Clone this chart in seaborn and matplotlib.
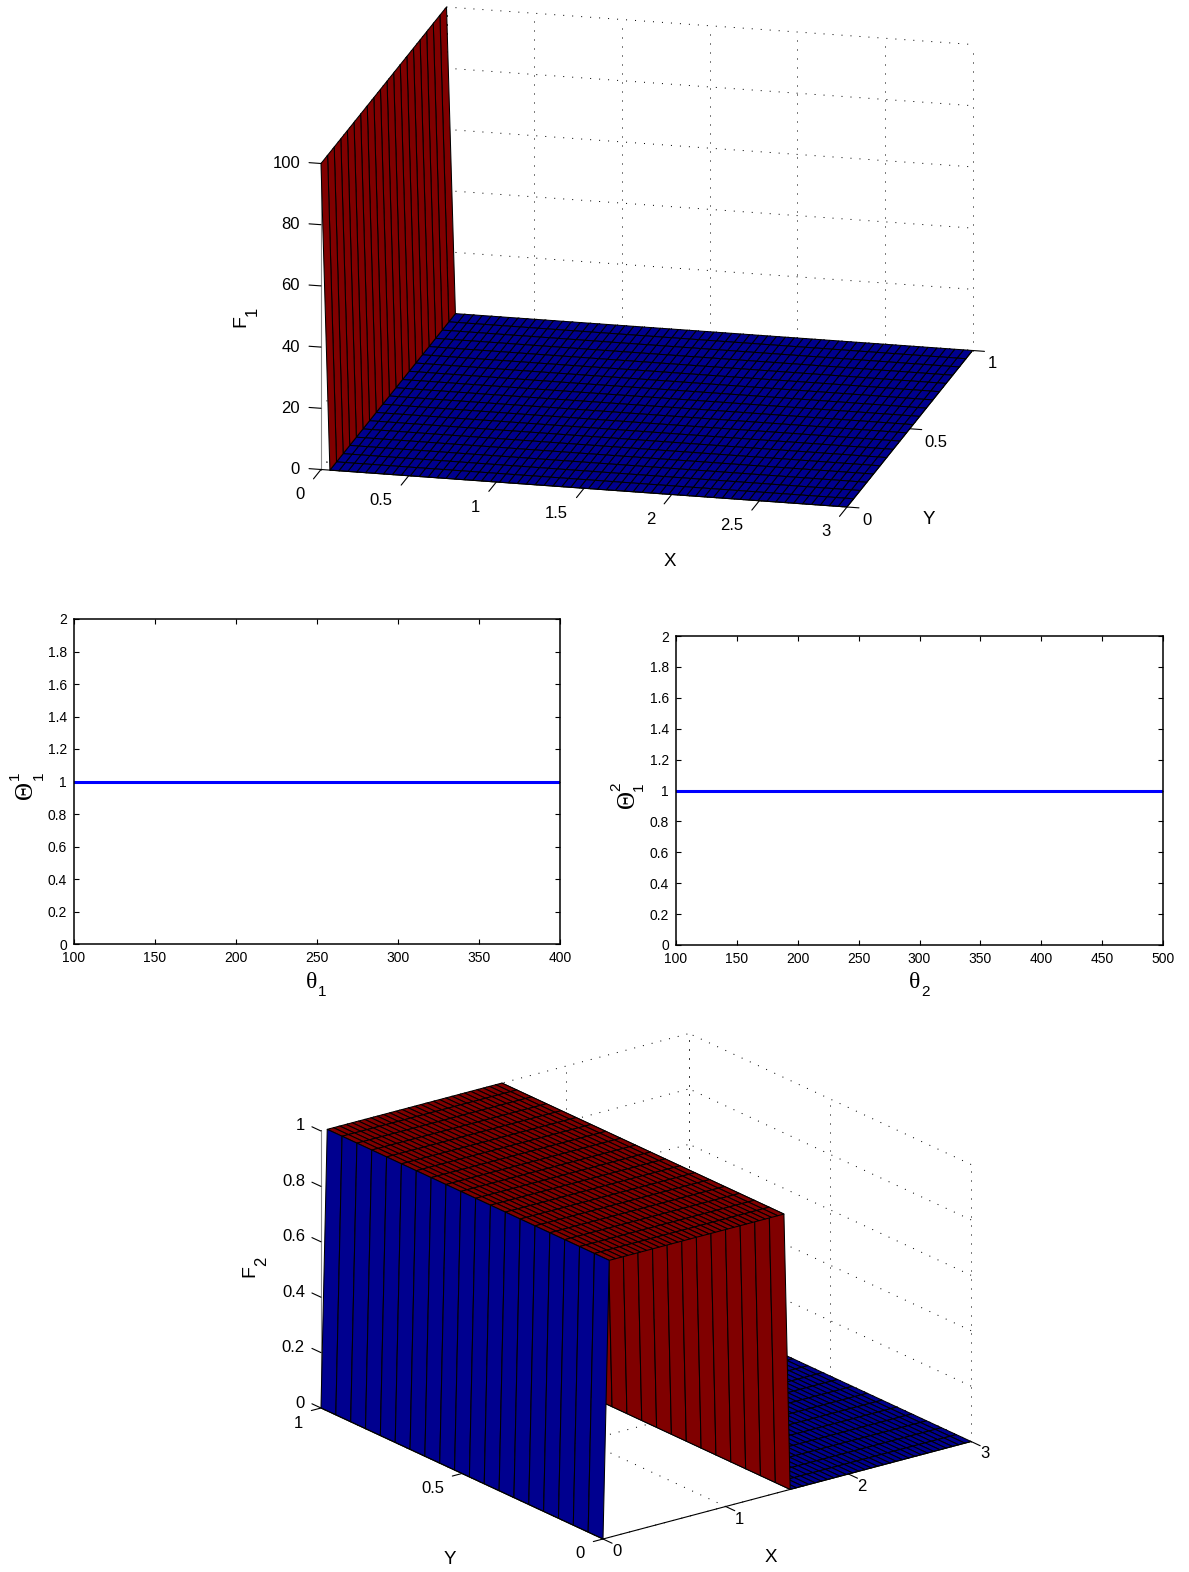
import numpy as np
import matplotlib
matplotlib.use('Agg')
import matplotlib.pyplot as plt
from matplotlib.collections import PolyCollection
import seaborn as sns

# Surface samples
grid_x = [0.0, 0.0508, 0.1017, 0.1525, 0.2034, 0.2542, 0.3051, 0.3559, 0.4068, 0.4576,
          0.5085, 0.5593, 0.6102, 0.6610, 0.7119, 0.7627, 0.8136, 0.8644, 0.9153, 0.9661,
          1.0169, 1.0678, 1.1186, 1.1695, 1.2203, 1.2712, 1.3220, 1.3729, 1.4237, 1.4746,
          1.5254, 1.5763, 1.6271, 1.6780, 1.7288, 1.7797, 1.8305, 1.8814, 1.9322, 1.9831,
          2.0339, 2.0847, 2.1356, 2.1864, 2.2373, 2.2881, 2.3390, 2.3898, 2.4407, 2.4915,
          2.5424, 2.5932, 2.6441, 2.6949, 2.7458, 2.7966, 2.8475, 2.8983, 2.9492, 3.0]
grid_y = [0.0, 0.0526, 0.1053, 0.1579, 0.2105, 0.2632, 0.3158, 0.3684, 0.4211, 0.4737,
          0.5263, 0.5789, 0.6316, 0.6842, 0.7368, 0.7895, 0.8421, 0.8947, 0.9474, 1.0]
f1_profile = [100] + [0] * 59
f2_profile = [0] + [1] * 29 + [0] * 30

# Tick values
surface_x_ticks = [0, 0.5, 1, 1.5, 2, 2.5, 3]
f2_x_ticks = [0, 1, 2, 3]
surface_y_ticks = [0, 0.5, 1]
f1_z_ticks = [0, 20, 40, 60, 80, 100]
f2_z_ticks = [0, 0.2, 0.4, 0.6, 0.8, 1]

# Line panels
theta1 = [100, 400]
big_theta1 = [1, 1]
theta2 = [100, 500]
big_theta2 = [1, 1]
theta1_ticks = [100, 150, 200, 250, 300, 350, 400]
theta2_ticks = [100, 150, 200, 250, 300, 350, 400, 450, 500]
big_theta_ticks = [0, 0.2, 0.4, 0.6, 0.8, 1, 1.2, 1.4, 1.6, 1.8, 2]

WIDTH, HEIGHT = 1189, 1572
LOW_COLOR = '#00008f'
HIGH_COLOR = '#800000'
DOTS = (0, (1, 8))
SANS = 'Liberation Sans'
SERIF = 'Liberation Serif'

sns.set_style('white')
plt.rcParams['font.family'] = [SANS, 'DejaVu Sans']
plt.rcParams['text.color'] = 'black'

# Pixel geometry of the two MATLAB style boxes (orthographic, so a plain affine map)
f1_box = {
    'origin': (321, 469.5), 'xv': (526 / 3, 37.5 / 3), 'yv': (125.5, -156.5), 'zv': (0, -3.06),
    'xlim': (0, 3), 'ylim': (0, 1), 'zlim': (0, 100),
    'xticks': surface_x_ticks, 'yticks': surface_y_ticks, 'zticks': f1_z_ticks,
    'wall_x': 0, 'wall_y': 1, 'yaxis_x': 3, 'zaxis': (0, 0), 'ytick_sign': 1, 'ztick_dir': 'x-',
    'xlab_off': (-16.5, 25, 'right'), 'ylab_off': (15, 13.5, 'left'), 'zlab_off': (-21, 0, 'right'),
}
f2_box = {
    'origin': (603, 1539), 'xv': (122.7, -32.5), 'yv': (-282, -131), 'zv': (0, -277),
    'xlim': (0, 3), 'ylim': (0, 1), 'zlim': (0, 1),
    'xticks': f2_x_ticks, 'yticks': surface_y_ticks, 'zticks': f2_z_ticks,
    'wall_x': 3, 'wall_y': 1, 'yaxis_x': 0, 'zaxis': (0, 1), 'ytick_sign': -1, 'ztick_dir': 'y+',
    'xlab_off': (9, 12.5, 'left'), 'ylab_off': (-18, 15, 'right'), 'zlab_off': (-16, -5, 'right'),
}


def project(box, x, y, z):
    """Map data coordinates of a box to canvas pixels."""
    px = box['origin'][0] + x * box['xv'][0] + y * box['yv'][0] + z * box['zv'][0]
    py = box['origin'][1] + x * box['xv'][1] + y * box['yv'][1] + z * box['zv'][1]
    return px, py


def segment(ax, box, p0, p1, **kwargs):
    a = project(box, *p0)
    b = project(box, *p1)
    ax.plot([a[0], b[0]], [a[1], b[1]], solid_capstyle='butt', **kwargs)


def draw_grid(ax, box):
    """Dotted grid on the floor and the two back walls."""
    x0, x1 = box['xlim']
    y0, y1 = box['ylim']
    z0, z1 = box['zlim']
    style = dict(color='black', lw=0.72, ls=DOTS, zorder=1)
    for x in box['xticks']:
        segment(ax, box, (x, y0, z0), (x, y1, z0), **style)
        segment(ax, box, (x, box['wall_y'], z0), (x, box['wall_y'], z1), **style)
    for y in box['yticks']:
        segment(ax, box, (x0, y, z0), (x1, y, z0), **style)
        segment(ax, box, (box['wall_x'], y, z0), (box['wall_x'], y, z1), **style)
    for z in box['zticks']:
        segment(ax, box, (x0, box['wall_y'], z), (x1, box['wall_y'], z), **style)
        segment(ax, box, (box['wall_x'], y0, z), (box['wall_x'], y1, z), **style)


def draw_surface(ax, box, xs, ys, profile):
    """Flat shaded mesh, far cells first so nearer cells paint over them."""
    verts, colors = [], []
    for i in range(len(xs) - 2, -1, -1):
        for j in range(len(ys) - 2, -1, -1):
            verts.append([
                project(box, xs[i], ys[j], profile[i]),
                project(box, xs[i + 1], ys[j], profile[i + 1]),
                project(box, xs[i + 1], ys[j + 1], profile[i + 1]),
                project(box, xs[i], ys[j + 1], profile[i]),
            ])
            colors.append(HIGH_COLOR if profile[i] > 0 else LOW_COLOR)
    ax.add_collection(PolyCollection(verts, facecolors=colors, edgecolors='black',
                                     linewidths=0.75, zorder=2))


def unit(vec, sign=1):
    v = np.array(vec, dtype=float) * sign
    return v / np.hypot(*v)


def draw_axes_lines(ax, box, tick_len=12):
    x0, x1 = box['xlim']
    y0, y1 = box['ylim']
    z0, z1 = box['zlim']
    line = dict(color='black', lw=0.8, zorder=3)
    segment(ax, box, (x0, y0, z0), (x1, y0, z0), **line)
    segment(ax, box, (box['yaxis_x'], y0, z0), (box['yaxis_x'], y1, z0), **line)
    zx, zy = box['zaxis']
    segment(ax, box, (zx, zy, z0), (zx, zy, z1), color='#8c8c8c', lw=0.8, zorder=1)

    x_dir = unit(box['yv'], -1)
    y_dir = unit(box['xv'], box['ytick_sign'])
    z_dir = unit(box['xv'], -1) if box['ztick_dir'] == 'x-' else unit(box['yv'], 1)

    def tick(px, py, direction, off, value):
        end = (px + direction[0] * tick_len, py + direction[1] * tick_len)
        ax.plot([px, end[0]], [py, end[1]], color='black', lw=0.8, zorder=3)
        ax.text(px + off[0], py + off[1], f'{value:g}', ha=off[2], va='center', fontsize=12)

    for x in box['xticks']:
        tick(*project(box, x, y0, z0), x_dir, box['xlab_off'], x)
    for y in box['yticks']:
        tick(*project(box, box['yaxis_x'], y, z0), y_dir, box['ylab_off'], y)
    for z in box['zticks']:
        tick(*project(box, zx, zy, z), z_dir, box['zlab_off'], z)


def add_panel(fig, left, top, right, bottom):
    return fig.add_axes([left / WIDTH, 1 - bottom / HEIGHT, (right - left) / WIDTH, (bottom - top) / HEIGHT])


def draw_line_panel(ax, xs, ys, xticks):
    sns.lineplot(x=xs, y=ys, ax=ax, color='#0000ff', linewidth=2.2, estimator=None)
    ax.set_xlim(xticks[0], xticks[-1])
    ax.set_ylim(big_theta_ticks[0], big_theta_ticks[-1])
    ax.set_xticks(xticks)
    ax.set_yticks(big_theta_ticks)
    ax.set_xticklabels([f'{v:g}' for v in xticks])
    ax.set_yticklabels([f'{v:g}' for v in big_theta_ticks])
    ax.tick_params(axis='both', which='major', direction='in', length=3.6, width=0.8, labelsize=10,
                   top=True, right=True, bottom=True, left=True, pad=5, color='black', labelcolor='black')
    for spine in ax.spines.values():
        spine.set_visible(True)
        spine.set_color('black')
        spine.set_linewidth(1.1)


def put(ax, x, y, text, size, family=SANS, rotation=0):
    ax.text(x, y, text, fontsize=size, family=family, rotation=rotation, ha='center', va='center')


def main():
    fig = plt.figure(figsize=(WIDTH / 100, HEIGHT / 100), dpi=100, facecolor='white')
    canvas = fig.add_axes([0, 0, 1, 1])
    canvas.set_xlim(0, WIDTH)
    canvas.set_ylim(HEIGHT, 0)
    canvas.axis('off')

    # F1 surface
    draw_grid(canvas, f1_box)
    draw_surface(canvas, f1_box, grid_x, grid_y, f1_profile)
    draw_axes_lines(canvas, f1_box)
    put(canvas, 670, 561, 'X', 13.5)
    put(canvas, 929, 519, 'Y', 13.5)
    put(canvas, 240.5, 321.5, 'F', 14, rotation=90)
    put(canvas, 252.5, 311.5, '1', 12, rotation=90)

    # F2 surface
    draw_grid(canvas, f2_box)
    draw_surface(canvas, f2_box, grid_x, grid_y, f2_profile)
    draw_axes_lines(canvas, f2_box, tick_len=10)
    put(canvas, 771, 1557, 'X', 13.5)
    put(canvas, 450, 1559, 'Y', 13.5)
    put(canvas, 249.5, 1271.5, 'F', 14, rotation=90)
    put(canvas, 261.5, 1261.5, '2', 12, rotation=90)

    # Line panels
    left_ax = add_panel(fig, 74, 619, 560, 944)
    draw_line_panel(left_ax, theta1, big_theta1, theta1_ticks)
    put(canvas, 312, 982, '\u03b8', 17, family=SERIF)
    put(canvas, 322.5, 992, '1', 11)
    put(canvas, 26, 790, '\u0398', 18, family=SERIF, rotation=90)
    put(canvas, 14.5, 776, '1', 11, rotation=90)
    put(canvas, 38.5, 776, '1', 11, rotation=90)

    right_ax = add_panel(fig, 676, 636, 1163, 945)
    draw_line_panel(right_ax, theta2, big_theta2, theta2_ticks)
    put(canvas, 914.5, 982, '\u03b8', 17, family=SERIF)
    put(canvas, 925, 992, '2', 11)
    put(canvas, 628, 799, '\u0398', 18, family=SERIF, rotation=90)
    put(canvas, 616.5, 787, '2', 11, rotation=90)
    put(canvas, 638.5, 787, '1', 11, rotation=90)

    fig.savefig('out.png', dpi=100, facecolor='white')


if __name__ == "__main__":
    main()
